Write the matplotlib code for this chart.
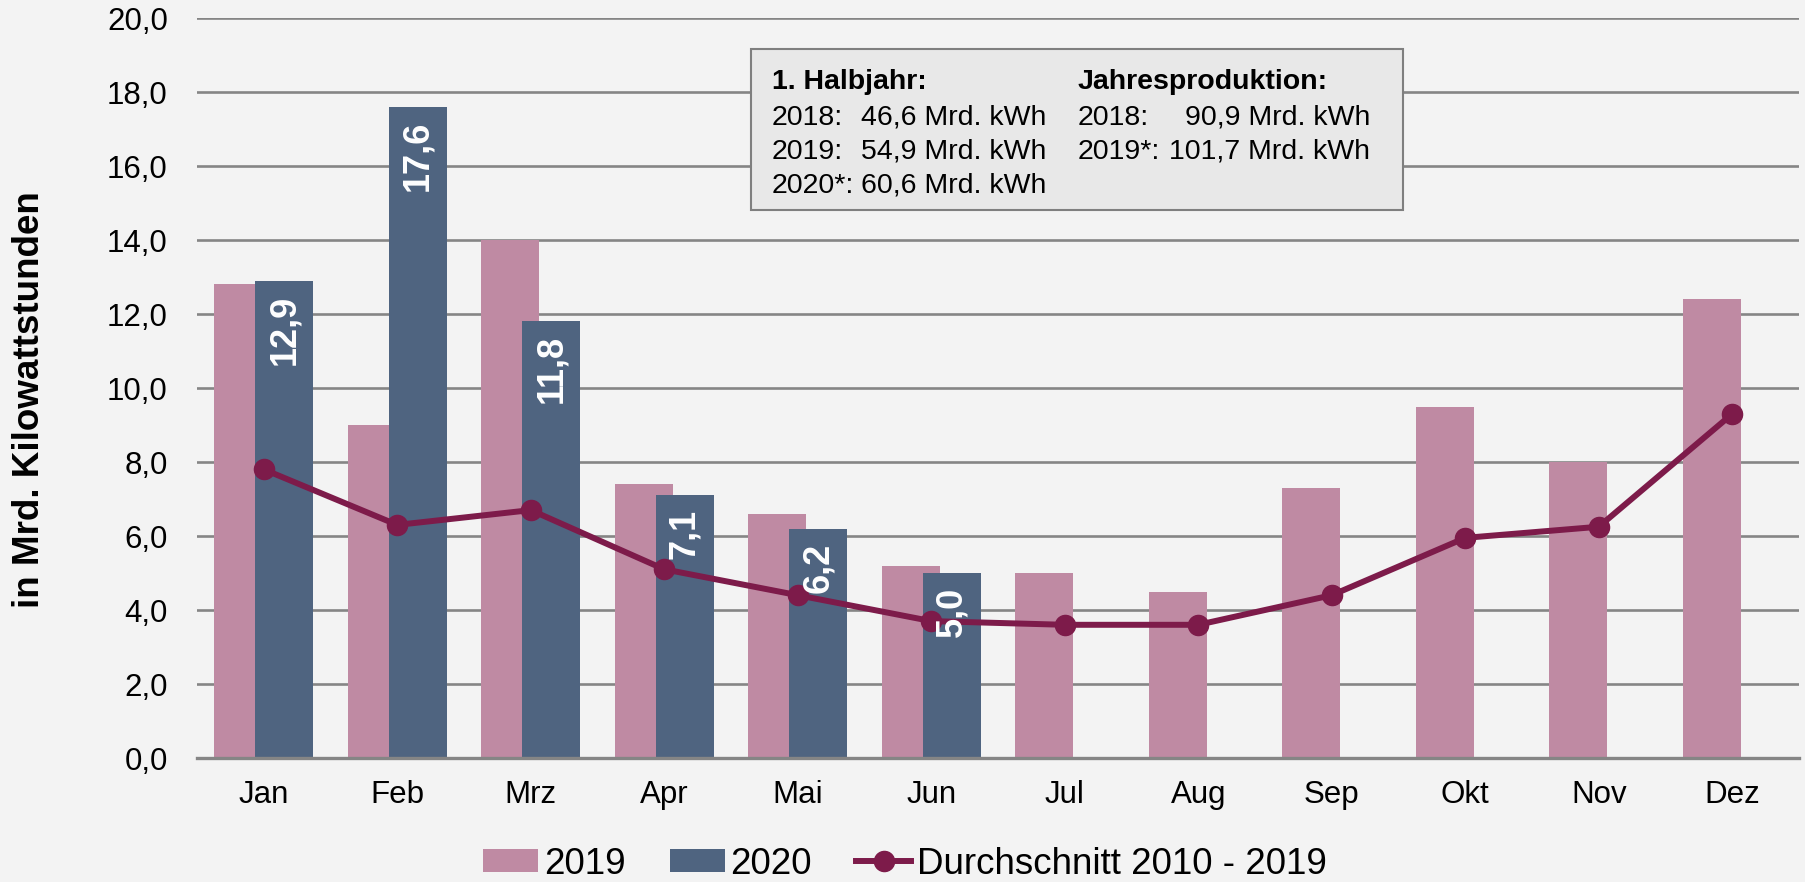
import matplotlib
matplotlib.use("Agg")
import matplotlib.pyplot as plt
from matplotlib.patches import Patch, Rectangle
from matplotlib.lines import Line2D
from matplotlib.ticker import FuncFormatter, MultipleLocator
import numpy as np

plt.rcParams['font.family'] = ['Liberation Sans', 'DejaVu Sans']

# ---- data ----
months = ["Jan", "Feb", "Mrz", "Apr", "Mai", "Jun", "Jul", "Aug", "Sep", "Okt", "Nov", "Dez"]
values_2019 = [12.8, 9.0, 14.0, 7.4, 6.6, 5.2, 5.0, 4.5, 7.3, 9.5, 8.0, 12.4]
values_2020 = [12.9, 17.6, 11.8, 7.1, 6.2, 5.0]
avg_2010_2019 = [7.8, 6.3, 6.7, 5.1, 4.4, 3.7, 3.6, 3.6, 4.4, 5.95, 6.25, 9.3]
series_names = ["2019", "2020", "Durchschnitt 2010 - 2019"]
ylabel = "in Mrd. Kilowattstunden"
box_left_header = "1. Halbjahr:"
box_left_labels = ["2018:", "2019:", "2020*:"]
box_left_values = ["46,6 Mrd. kWh", "54,9 Mrd. kWh", "60,6 Mrd. kWh"]
box_right_header = "Jahresproduktion:"
box_right_labels = ["2018:", "2019*:"]
box_right_values = ["90,9 Mrd. kWh", "101,7 Mrd. kWh"]

# ---- style ----
W, H = 1805, 882
BG = "#f3f3f3"
PINK = "#bf8aa3"
BLUE = "#4f6480"
LINEC = "#7d1b4a"
GRID = "#858585"

def fx(px):
    return px / W

def fy(py):
    return 1 - py / H

fig = plt.figure(figsize=(W / 100, H / 100), dpi=100, facecolor=BG)
ax = fig.add_axes([fx(197), fy(758), fx(1799) - fx(197), fy(18) - fy(758)])
ax.set_facecolor(BG)

x = np.arange(len(months))
bw = 0.434
off = 0.154

ax.bar(x - off, values_2019, width=bw, color=PINK, zorder=2, label=series_names[0])
x20 = np.arange(len(values_2020))
ax.bar(x20 + off, values_2020, width=bw, color=BLUE, zorder=3, label=series_names[1])
ax.plot(x, avg_2010_2019, color=LINEC, lw=4.3, marker='o', markersize=14.5,
        zorder=5, label=series_names[2], solid_capstyle='round')

for xi, v in zip(x20, values_2020):
    ax.annotate(f"{v:.1f}".replace('.', ','), xy=(xi + off, v), xytext=(0, -10),
                textcoords='offset points', rotation=90, ha='center', va='top',
                color='white', fontweight='bold', fontsize=26, zorder=10)

ax.set_xlim(-0.5, len(months) - 0.5)
ax.set_ylim(0, 20)
ax.yaxis.set_major_locator(MultipleLocator(2))
ax.yaxis.set_major_formatter(FuncFormatter(lambda v, p: f"{v:.1f}".replace('.', ',')))
ax.set_xticks(x)
ax.set_xticklabels(months)
ax.tick_params(axis='y', length=0, pad=21, labelsize=22.5, colors='black')
ax.tick_params(axis='x', length=0, pad=16, labelsize=22.5, colors='black')
ax.grid(axis='y', color=GRID, lw=1.9, zorder=0)
ax.set_axisbelow(True)
for s in ['top', 'right', 'left']:
    ax.spines[s].set_visible(False)
ax.spines['bottom'].set_color(GRID)
ax.spines['bottom'].set_linewidth(2.4)
ax.spines['bottom'].set_zorder(4)

fig.text(fx(30), fy(400), ylabel, rotation=90, ha='center', va='center',
         fontsize=26.5, fontweight='bold')

# info box
box = Rectangle((fx(751), fy(210)), fx(1403) - fx(751), fy(49) - fy(210),
                transform=fig.transFigure, facecolor="#e8e8e8", edgecolor="#7f7f7f",
                lw=1.5, zorder=20)
fig.patches.append(box)
baselines = [89, 125, 159, 193]
fs = 20.5
fig.text(fx(772), fy(baselines[0]), box_left_header, fontsize=fs, fontweight='bold',
         va='baseline', ha='left', zorder=21)
for i, (lab, val) in enumerate(zip(box_left_labels, box_left_values)):
    fig.text(fx(772), fy(baselines[i + 1]), lab, fontsize=fs, va='baseline', ha='left', zorder=21)
    fig.text(fx(861), fy(baselines[i + 1]), val, fontsize=fs, va='baseline', ha='left', zorder=21)
fig.text(fx(1078), fy(baselines[0]), box_right_header, fontsize=fs, fontweight='bold',
         va='baseline', ha='left', zorder=21)
for i, (lab, val) in enumerate(zip(box_right_labels, box_right_values)):
    fig.text(fx(1078), fy(baselines[i + 1]), lab, fontsize=fs, va='baseline', ha='left', zorder=21)
    fig.text(fx(1370), fy(baselines[i + 1]), val, fontsize=fs, va='baseline', ha='right', zorder=21)

handles = [Patch(facecolor=PINK), Patch(facecolor=BLUE),
           Line2D([0], [0], color=LINEC, lw=4.3, marker='o', markersize=14.5)]
fig.legend(handles, series_names, loc='center', bbox_to_anchor=(fx(905), fy(864)),
           ncol=3, frameon=False, fontsize=26.5, handlelength=1.5, handleheight=0.55,
           handletextpad=0.15, columnspacing=1.2, borderpad=0, borderaxespad=0)

fig.savefig("out.png", dpi=100, facecolor=BG)
